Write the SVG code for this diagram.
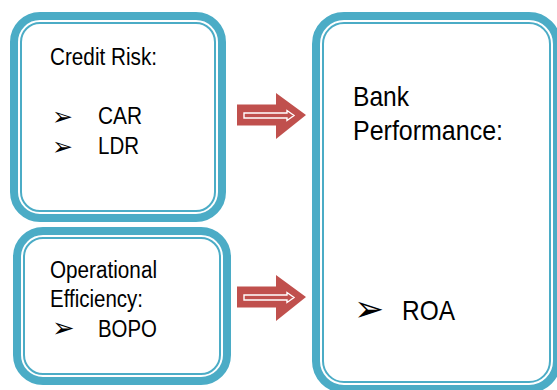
<svg xmlns="http://www.w3.org/2000/svg" width="557" height="390" viewBox="0 0 557 390">
<style>
.outer{fill:#fff;stroke:#4BACC6;stroke-width:8}
.inner{fill:none;stroke:#4BACC6;stroke-width:2}
.t{font-family:"Liberation Sans Narrow","Arial Narrow","Liberation Sans",sans-serif;fill:#000}
.b{font-family:"DejaVu Sans",sans-serif;fill:#000}
.arr{fill:#C0504D}
.arrIn{fill:none;stroke:#fff;stroke-width:1.4}
</style>
<defs>
<g id="bigArrow">
<path class="arr" d="M237,104.5 L276,104.5 L276,93 L306,115 L276,139 L276,125.5 L237,125.5 Z"/>
<path class="arrIn" d="M244,113 L287,113 L287,110.5 L294,115.5 L287,120.5 L287,118 L244,118 Z"/>
</g>
</defs>
<rect width="557" height="390" fill="#fff"/>
<g id="connectors">
<use href="#bigArrow"/>
<use href="#bigArrow" transform="translate(0,182)"/>
</g>
<g id="credit-risk">
<rect class="outer" x="14" y="16" width="208" height="202" rx="26"/>
<rect class="inner" x="21" y="23" width="194" height="188" rx="19"/>
<text class="t" x="50" y="65" font-size="23" textLength="107" lengthAdjust="spacingAndGlyphs">Credit Risk:</text>
<text class="b" x="52" y="125" font-size="25">➢</text>
<text class="t" x="98" y="124" font-size="23" textLength="44" lengthAdjust="spacingAndGlyphs">CAR</text>
<text class="b" x="52" y="155" font-size="25">➢</text>
<text class="t" x="98" y="154" font-size="23" textLength="41" lengthAdjust="spacingAndGlyphs">LDR</text>
</g>
<g id="operational-efficiency">
<rect class="outer" x="17" y="231" width="210" height="150" rx="26"/>
<rect class="inner" x="24" y="238" width="196" height="136" rx="19"/>
<text class="t" x="50" y="278" font-size="23" textLength="107" lengthAdjust="spacingAndGlyphs">Operational</text>
<text class="t" x="50" y="307" font-size="23" textLength="93" lengthAdjust="spacingAndGlyphs">Efficiency:</text>
<text class="b" x="52" y="337" font-size="27">➢</text>
<text class="t" x="98" y="337" font-size="23" textLength="59" lengthAdjust="spacingAndGlyphs">BOPO</text>
</g>
<g id="bank-performance">
<rect class="outer" x="316" y="16" width="241" height="373" rx="28"/>
<rect class="inner" x="323" y="23" width="227" height="359" rx="21"/>
<text class="t" x="353" y="106" font-size="28" textLength="56" lengthAdjust="spacingAndGlyphs">Bank</text>
<text class="t" x="353" y="140" font-size="28" textLength="150" lengthAdjust="spacingAndGlyphs">Performance:</text>
<text class="b" x="354" y="321" font-size="36">➢</text>
<text class="t" x="402" y="320" font-size="28" textLength="53" lengthAdjust="spacingAndGlyphs">ROA</text>
</g>
</svg>
